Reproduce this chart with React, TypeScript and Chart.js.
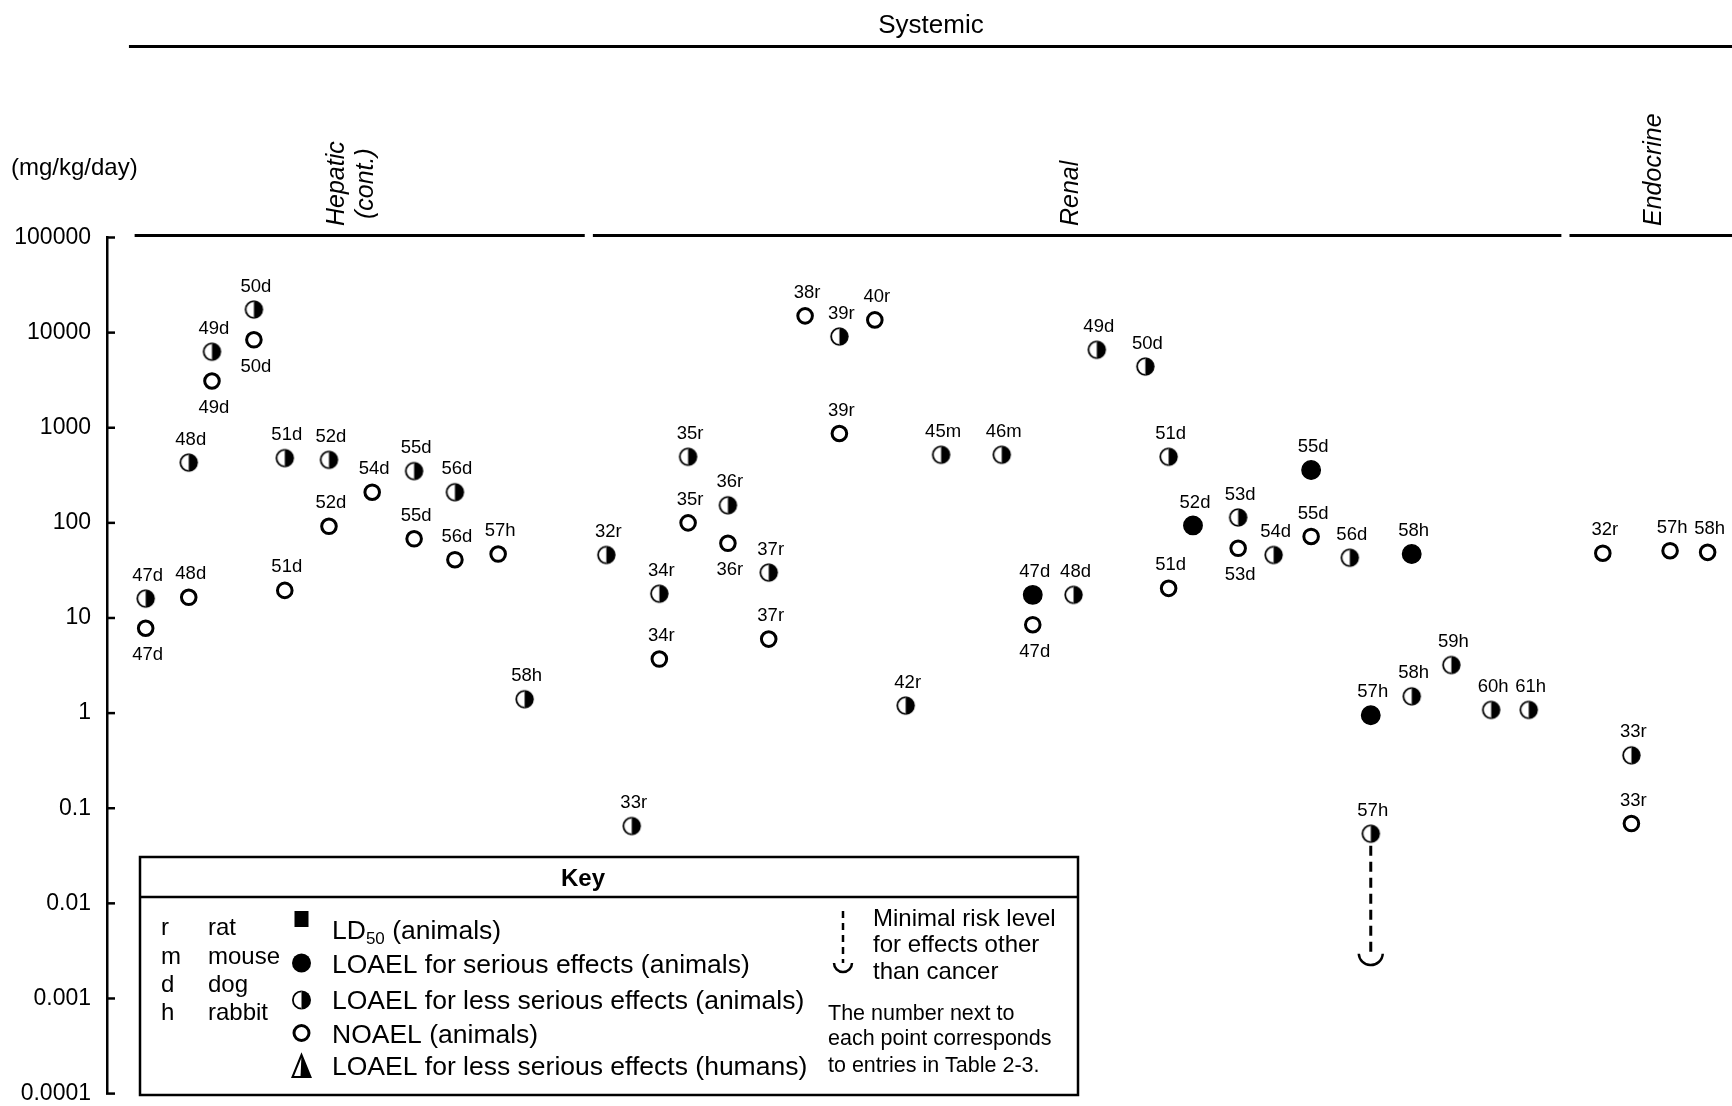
import React, { useEffect, useRef } from "react";
import { Chart, registerables } from "chart.js";

Chart.register(...registerables);

const W = 1732;
const H = 1106;
const FONT = '"Liberation Sans", Arial, Helvetica, sans-serif';

// ---------- axis ----------
const yTickValues = [100000, 10000, 1000, 100, 10, 1, 0.1, 0.01, 0.001, 0.0001];
const yTickLabels = ["100000", "10000", "1000", "100", "10", "1", "0.1", "0.01", "0.001", "0.0001"];
const yUnitLabel = "(mg/kg/day)";
const topTitle = "Systemic";

// ---------- groups (x in column units 0..100) ----------
const groupTitles = [["Hepatic", "(cont.)"], ["Renal"], ["Endocrine"]];
const groupFrom = [1.7, 29.9, 90.0];
const groupTo = [29.4, 89.5, 100];
const groupTitleCol = [14.15, 59.3, 95.2];

// effect codes: S = LOAEL serious, L = LOAEL less serious, N = NOAEL
// ---------- Hepatic (cont.) ----------
const hepaticIds = ["47d", "47d", "48d", "48d", "49d", "49d", "50d", "50d", "51d", "51d", "52d", "52d", "54d", "55d", "55d", "56d", "56d", "57h", "58h"];
const hepaticCols = [2.38, 2.38, 5.03, 5.03, 6.46, 6.46, 9.04, 9.04, 10.94, 10.94, 13.66, 13.66, 16.32, 18.9, 18.9, 21.41, 21.41, 24.07, 25.7];
const hepaticDoses = [16, 7.8, 430, 16.5, 6300, 3100, 17500, 8400, 480, 19.5, 460, 92, 210, 350, 68, 210, 41, 47, 1.4];
const hepaticEffects = ["L", "N", "L", "N", "L", "N", "L", "N", "L", "N", "L", "N", "N", "L", "N", "L", "N", "N", "L"];

// ---------- Renal ----------
const renalIds = ["32r", "33r", "34r", "34r", "35r", "35r", "36r", "36r", "37r", "37r", "38r", "39r", "39r", "40r", "42r", "45m", "46m", "47d", "47d", "48d", "49d", "50d", "51d", "51d", "52d", "53d", "53d", "54d", "55d", "55d", "56d", "57h", "57h", "58h", "58h", "59h", "60h", "61h"];
const renalCols = [30.73, 32.29, 33.99, 33.99, 35.76, 35.76, 38.21, 38.21, 40.72, 40.72, 42.96, 45.07, 45.07, 47.25, 49.15, 51.33, 55.06, 56.97, 56.97, 59.48, 60.91, 63.9, 65.33, 65.33, 66.83, 69.61, 69.61, 71.79, 74.1, 74.1, 76.48, 77.77, 77.77, 80.29, 80.29, 82.73, 85.18, 87.49];
const renalDoses = [46, 0.065, 18, 3.7, 495, 100, 153, 61, 30, 6, 15000, 9100, 870, 13600, 1.2, 520, 520, 17.5, 8.5, 17.5, 6600, 4400, 495, 20.5, 94, 114, 54, 46, 360, 72, 43, 0.95, 0.054, 47, 1.5, 3.2, 1.08, 1.08];
const renalEffects = ["L", "L", "L", "N", "L", "N", "L", "N", "L", "N", "N", "L", "N", "N", "L", "L", "L", "S", "N", "L", "L", "L", "L", "N", "S", "L", "N", "L", "S", "N", "L", "S", "L", "S", "L", "L", "L", "L"];

// ---------- Endocrine ----------
const endocrineIds = ["32r", "33r", "33r", "57h", "58h"];
const endocrineCols = [92.05, 93.81, 93.81, 96.19, 98.5];
const endocrineDoses = [48, 0.36, 0.069, 51, 49];
const endocrineEffects = ["N", "L", "N", "N", "N"];

// ---------- minimal risk level ----------
const mrlCol = 77.77;
const mrlFrom = 0.054;
const mrlValue = 0.003;

// label placement (ids drawn below the marker instead of above)
const hepaticBelow = [false, true, false, false, false, true, false, true, false, false, false, false, false, false, false, false, false, false, false];
const renalBelow = renalIds.map((_, i) => i === 7 || i === 18 || i === 26);
const endocrineBelow = endocrineIds.map(() => false);

// ---------- key ----------
const speciesCodes = ["r", "m", "d", "h"];
const speciesNames = ["rat", "mouse", "dog", "rabbit"];
const keyEntries = ["LD50 (animals)", "LOAEL for serious effects (animals)", "LOAEL for less serious effects (animals)", "NOAEL (animals)", "LOAEL for less serious effects (humans)"];
const mrlKeyLines = ["Minimal risk level", "for effects other", "than cancer"];
const noteLines = ["The number next to", "each point corresponds", "to entries in Table 2-3."];

type Pt = { x: number; y: number; id: string; below: boolean };

function collect(effect: string): Pt[] {
  const out: Pt[] = [];
  const groups = [
    [hepaticIds, hepaticCols, hepaticDoses, hepaticEffects, hepaticBelow],
    [renalIds, renalCols, renalDoses, renalEffects, renalBelow],
    [endocrineIds, endocrineCols, endocrineDoses, endocrineEffects, endocrineBelow],
  ] as any[];
  for (const [ids, cols, doses, effs, below] of groups) {
    for (let i = 0; i < ids.length; i++) {
      if (effs[i] === effect) out.push({ x: cols[i], y: doses[i], id: ids[i], below: below[i] });
    }
  }
  return out;
}

function halfCircleAt(ctx: CanvasRenderingContext2D, x: number, y: number, r: number) {
  ctx.beginPath();
  ctx.arc(x, y, r - 0.5, 0, Math.PI * 2);
  ctx.fillStyle = "#fff";
  ctx.fill();
  ctx.beginPath();
  ctx.arc(x, y, r, -Math.PI / 2, Math.PI / 2);
  ctx.closePath();
  ctx.fillStyle = "#000";
  ctx.fill();
  ctx.beginPath();
  ctx.arc(x, y, r - 0.9, Math.PI / 2, (3 * Math.PI) / 2);
  ctx.lineWidth = 1.8;
  ctx.strokeStyle = "#000";
  ctx.stroke();
}

function makeHalfCircle(r: number): HTMLCanvasElement {
  const c = document.createElement("canvas");
  const s = Math.ceil(r * 2 + 4);
  c.width = s;
  c.height = s;
  const g = c.getContext("2d")!;
  halfCircleAt(g, s / 2, s / 2, r);
  return c;
}

const labelPlugin = {
  id: "pointLabels",
  afterDatasetsDraw(chart: any) {
    const ctx: CanvasRenderingContext2D = chart.ctx;
    ctx.save();
    ctx.font = `18.5px ${FONT}`;
    ctx.fillStyle = "#000";
    ctx.textAlign = "center";
    ctx.textBaseline = "middle";
    chart.data.datasets.forEach((ds: any, di: number) => {
      if (!ds.showIds) return;
      const meta = chart.getDatasetMeta(di);
      meta.data.forEach((el: any, i: number) => {
        const p = ds.data[i] as Pt;
        ctx.fillText(p.id, el.x + 2, el.y + (p.below ? 27 : -23));
      });
    });
    ctx.restore();
  },
};

const decorPlugin = {
  id: "decor",
  afterDraw(chart: any) {
    const ctx: CanvasRenderingContext2D = chart.ctx;
    const xs = chart.scales.x;
    const ys = chart.scales.y;
    const area = chart.chartArea;
    ctx.save();
    ctx.fillStyle = "#000";
    ctx.strokeStyle = "#000";

    // top title and line
    ctx.font = `26px ${FONT}`;
    ctx.textAlign = "center";
    ctx.textBaseline = "middle";
    ctx.fillText(topTitle, 931, 26);
    ctx.lineWidth = 3;
    ctx.beginPath();
    ctx.moveTo(xs.getPixelForValue(1.35), 46.5);
    ctx.lineTo(W, 46.5);
    ctx.stroke();

    // unit label
    ctx.font = `24px ${FONT}`;
    ctx.textAlign = "left";
    ctx.fillText(yUnitLabel, 11, 168);

    // y tick labels and inward tick dashes
    ctx.font = `23px ${FONT}`;
    ctx.textAlign = "right";
    for (let i = 0; i < yTickValues.length; i++) {
      const py = ys.getPixelForValue(yTickValues[i]);
      ctx.fillText(yTickLabels[i], area.left - 16, py);
      ctx.lineWidth = 2.5;
      ctx.beginPath();
      ctx.moveTo(area.left - 1, py);
      ctx.lineTo(area.left + 8, py);
      ctx.stroke();
    }

    // group header lines + rotated titles
    const hy = ys.getPixelForValue(100000) - 2;
    ctx.lineWidth = 3;
    for (let g = 0; g < groupTitles.length; g++) {
      ctx.beginPath();
      ctx.moveTo(xs.getPixelForValue(groupFrom[g]), hy);
      ctx.lineTo(Math.min(W, xs.getPixelForValue(groupTo[g])), hy);
      ctx.stroke();
      const lines = groupTitles[g];
      ctx.save();
      ctx.translate(xs.getPixelForValue(groupTitleCol[g]), 226);
      ctx.rotate(-Math.PI / 2);
      ctx.font = `italic 25px ${FONT}`;
      ctx.textBaseline = "middle";
      ctx.textAlign = "left";
      const w0 = ctx.measureText(lines[0]).width;
      ctx.fillText(lines[0], 0, 0);
      if (lines[1]) {
        ctx.textAlign = "center";
        ctx.fillText(lines[1], w0 / 2, 29);
      }
      ctx.restore();
    }

    // MRL arrow end
    const mx = xs.getPixelForValue(mrlCol);
    const my = ys.getPixelForValue(mrlValue);
    ctx.lineWidth = 2.5;
    ctx.beginPath();
    ctx.arc(mx, my, 12, 0.05, Math.PI - 0.05);
    ctx.stroke();

    // ---------- key box ----------
    const kx0 = 140, kx1 = 1078, ky0 = 857, ky1 = 1095;
    ctx.fillStyle = "#fff";
    ctx.fillRect(kx0, ky0, kx1 - kx0, ky1 - ky0);
    ctx.fillStyle = "#000";
    ctx.lineWidth = 2.5;
    ctx.strokeRect(kx0, ky0, kx1 - kx0, ky1 - ky0);
    ctx.beginPath();
    ctx.moveTo(kx0, 897);
    ctx.lineTo(kx1, 897);
    ctx.stroke();
    ctx.font = `bold 24px ${FONT}`;
    ctx.textAlign = "center";
    ctx.textBaseline = "middle";
    ctx.fillText("Key", 583, 879);

    ctx.font = `24px ${FONT}`;
    ctx.textAlign = "left";
    const sRows = [928, 957, 985, 1013];
    for (let i = 0; i < speciesCodes.length; i++) {
      ctx.fillText(speciesCodes[i], 161, sRows[i]);
      ctx.fillText(speciesNames[i], 208, sRows[i]);
    }

    // symbols
    const sx = 301.5;
    ctx.fillRect(sx - 7, 911, 14, 16);
    ctx.beginPath();
    ctx.arc(sx, 963, 9.5, 0, Math.PI * 2);
    ctx.fill();
    halfCircleAt(ctx, sx, 1000, 9.5);
    ctx.beginPath();
    ctx.arc(sx, 1033, 7.5, 0, Math.PI * 2);
    ctx.lineWidth = 3;
    ctx.strokeStyle = "#000";
    ctx.stroke();
    // triangle, right half filled
    ctx.beginPath();
    ctx.moveTo(sx, 1055);
    ctx.lineTo(sx - 9, 1077);
    ctx.lineTo(sx + 9, 1077);
    ctx.closePath();
    ctx.lineWidth = 2;
    ctx.stroke();
    ctx.beginPath();
    ctx.moveTo(sx, 1055);
    ctx.lineTo(sx + 9, 1077);
    ctx.lineTo(sx - 1, 1077);
    ctx.closePath();
    ctx.fillStyle = "#000";
    ctx.fill();

    // key entry texts
    const tRows = [932, 966, 1002, 1036, 1068];
    ctx.font = `26.5px ${FONT}`;
    ctx.textAlign = "left";
    const tx = 332;
    ctx.fillText("LD", tx, tRows[0]);
    const wLD = ctx.measureText("LD").width;
    ctx.font = `17px ${FONT}`;
    ctx.fillText("50", tx + wLD, tRows[0] + 7);
    const w50 = ctx.measureText("50").width;
    ctx.font = `26.5px ${FONT}`;
    ctx.fillText(" (animals)", tx + wLD + w50, tRows[0]);
    for (let i = 1; i < keyEntries.length; i++) ctx.fillText(keyEntries[i], tx, tRows[i]);

    // MRL key
    ctx.lineWidth = 2.5;
    ctx.setLineDash([7, 5]);
    ctx.beginPath();
    ctx.moveTo(843, 911);
    ctx.lineTo(843, 963);
    ctx.stroke();
    ctx.setLineDash([]);
    ctx.beginPath();
    ctx.arc(843, 963, 9, 0, Math.PI);
    ctx.stroke();
    ctx.font = `24px ${FONT}`;
    const mRows = [919, 945, 972];
    for (let i = 0; i < mrlKeyLines.length; i++) ctx.fillText(mrlKeyLines[i], 873, mRows[i]);
    ctx.font = `21.5px ${FONT}`;
    const nRows = [1014, 1039, 1066];
    for (let i = 0; i < noteLines.length; i++) ctx.fillText(noteLines[i], 828, nRows[i]);

    ctx.restore();
  },
};

export default function App() {
  const ref = useRef<HTMLCanvasElement | null>(null);

  useEffect(() => {
    const canvas = ref.current!;
    const half = makeHalfCircle(9.2);
    const chart = new Chart(canvas, {
      type: "scatter",
      data: {
        datasets: [
          {
            type: "line",
            label: "MRL",
            data: [
              { x: mrlCol, y: mrlFrom },
              { x: mrlCol, y: mrlValue },
            ],
            borderColor: "#000",
            borderWidth: 3,
            borderDash: [10, 6],
            borderDashOffset: 4,
            pointRadius: 0,
            fill: false,
            order: 10,
          } as any,
          {
            label: "LOAEL serious",
            data: collect("S"),
            pointStyle: "circle",
            pointRadius: 9.2,
            pointBackgroundColor: "#000",
            pointBorderColor: "#000",
            pointBorderWidth: 1.5,
            showIds: true,
            order: 1,
          } as any,
          {
            label: "LOAEL less serious",
            data: collect("L"),
            pointStyle: half,
            pointRadius: 10,
            showIds: true,
            order: 1,
          } as any,
          {
            label: "NOAEL",
            data: collect("N"),
            pointStyle: "circle",
            pointRadius: 7.3,
            pointBackgroundColor: "#fff",
            pointBorderColor: "#000",
            pointBorderWidth: 3,
            showIds: true,
            order: 1,
          } as any,
        ],
      },
      options: {
        animation: false,
        responsive: false,
        devicePixelRatio: 1,
        layout: { autoPadding: false, padding: { top: 237.5, bottom: 12.4, left: 0, right: 0 } },
        plugins: { legend: { display: false }, tooltip: { enabled: false } },
        scales: {
          x: { type: "linear", min: 0, max: 100, display: false },
          y: {
            type: "logarithmic",
            min: 0.0001,
            max: 100000,
            afterBuildTicks: (s: any) => {
              s.ticks = yTickValues.map((v) => ({ value: v }));
            },
            afterFit: (s: any) => {
              s.width = 107;
            },
            ticks: { display: false },
            grid: { display: false, drawTicks: false },
            border: { display: true, color: "#000", width: 2.5 },
          },
        },
      },
      plugins: [labelPlugin, decorPlugin],
    } as any);
    return () => chart.destroy();
  }, []);

  return (
    <div style={{ position: "absolute", left: 0, top: 0, width: W, height: H, background: "#fff" }}>
      <canvas ref={ref} width={W} height={H} style={{ width: W, height: H, display: "block" }} />
    </div>
  );
}
